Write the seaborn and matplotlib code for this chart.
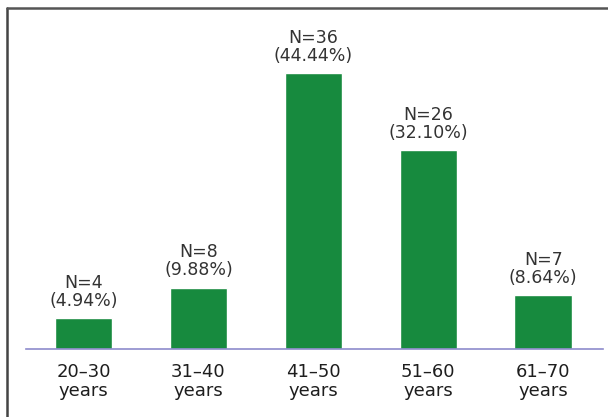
import matplotlib
matplotlib.use("Agg")
import matplotlib.pyplot as plt
import seaborn as sns
import pandas as pd
from matplotlib.lines import Line2D

categories = ["20–30\nyears", "31–40\nyears", "41–50\nyears", "51–60\nyears", "61–70\nyears"]
counts = [4, 8, 36, 26, 7]
percents = [4.94, 9.88, 44.44, 32.10, 8.64]

df = pd.DataFrame({"age": categories, "pct": percents})

sns.set_theme(style="white")
plt.rcParams["font.family"] = ["DejaVu Sans"]

fig = plt.figure(figsize=(6.08, 4.17), dpi=100)
ax = fig.add_axes([26 / 608, (417 - 349) / 417, 577 / 608, 339 / 417])
sns.barplot(data=df, x="age", y="pct", color="#178a3e", saturation=1, width=0.5, ax=ax)
ax.set_xlim(-0.5, 4.52)
ax.set_ylim(0, 339 / 6.2)
for s in ["top", "right", "left"]:
    ax.spines[s].set_visible(False)
ax.spines["bottom"].set_color("#8d8bcc")
ax.spines["bottom"].set_linewidth(1.2)
ax.set_yticks([])
ax.set_xlabel("")
ax.set_ylabel("")
ax.tick_params(axis="x", length=0, pad=10, labelsize=13, labelcolor="#1e1e1e")
for lbl in ax.get_xticklabels():
    lbl.set_linespacing(1.1)

for i, (n, p) in enumerate(zip(counts, percents)):
    ax.annotate(f"N={n}\n({p:.2f}%)", xy=(i, p), xytext=(0, 6), textcoords="offset points",
                ha="center", va="bottom", fontsize=12.5, color="#333333", linespacing=1.0)

fig.add_artist(Line2D([7 / 608, 7 / 608], [0, 1 - 8 / 417], transform=fig.transFigure,
                      color="#444444", linewidth=1.8))
fig.add_artist(Line2D([7 / 608, 1], [1 - 8 / 417, 1 - 8 / 417], transform=fig.transFigure,
                      color="#555555", linewidth=1.8))

fig.savefig("out.png", dpi=100)
